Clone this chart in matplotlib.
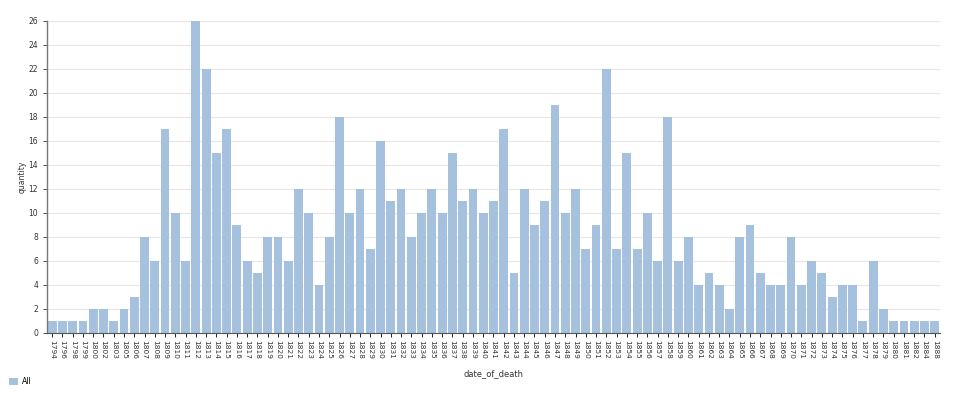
import matplotlib
matplotlib.use("Agg")
from matplotlib import pyplot as plt
from matplotlib.patches import Patch

years = [
    "1794", "1796", "1798", "1799", "1800", "1802", "1803", "1805",
] + [str(y) for y in range(1806, 1883)] + ["1884", "1888"]

quantity = [
    1, 1, 1, 1, 2, 2, 1, 2,
    3, 8, 6, 17, 10, 6, 26, 22, 15, 17,   # 1806-1815
    9, 6, 5, 8, 8, 6, 12, 10, 4, 8,       # 1816-1825
    18, 10, 12, 7, 16, 11, 12, 8, 10, 12, # 1826-1835
    10, 15, 11, 12, 10, 11, 17, 5, 12, 9, # 1836-1845
    11, 19, 10, 12, 7, 9, 22, 7, 15, 7,   # 1846-1855
    10, 6, 18, 6, 8, 4, 5, 4, 2, 8,       # 1856-1865
    9, 5, 4, 4, 8, 4, 6, 5, 3, 4,         # 1866-1875
    4, 1, 6, 2, 1, 1, 1,                  # 1876-1882
    1, 1,
]

bar_color = "#a5c1dd"

fig = plt.figure(figsize=(9.6, 3.95), dpi=100)
ax = fig.add_axes([0.049, 0.157, 0.930, 0.790])

x = list(range(len(years)))
ax.bar(x, quantity, width=0.86, color=bar_color, zorder=2)

ax.set_xlim(-0.5, len(years) - 0.5)
ax.set_ylim(0, 26)
ax.set_yticks(range(0, 27, 2))
ax.set_xticks(x)
ax.set_xticklabels(years, rotation=270, fontsize=5.3, color="#333333")
ax.tick_params(axis="y", labelsize=5.5, colors="#333333", length=3, width=0.6)
ax.tick_params(axis="x", length=3, width=0.6, pad=2)

ax.grid(axis="y", color="#e6e6e6", linewidth=0.8, zorder=0)
for side in ["top", "right"]:
    ax.spines[side].set_visible(False)
ax.spines["left"].set_color("#777777")
ax.spines["bottom"].set_color("#555555")
ax.spines["left"].set_linewidth(1.0)
ax.spines["bottom"].set_linewidth(0.8)

ax.set_ylabel("quantity", fontsize=5.5, color="#333333", labelpad=1)
ax.set_xlabel("date_of_death", fontsize=6, color="#333333", labelpad=7)

fig.legend(handles=[Patch(facecolor=bar_color, label="All")],
           loc="lower left", bbox_to_anchor=(0.002, 0.005), frameon=False,
           fontsize=5.5, handlelength=1.2, handleheight=0.9, handletextpad=0.5)

fig.savefig("out.png", dpi=100)
